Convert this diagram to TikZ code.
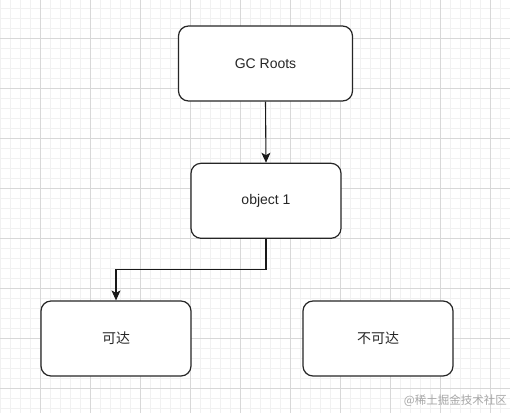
\documentclass[tikz,border=0pt]{standalone}
\usepackage{fontspec}
\setmainfont{Liberation Sans}
\newfontfamily\cjk{Noto Sans CJK SC}
\usetikzlibrary{arrows.meta,positioning}

\definecolor{gridlite}{HTML}{F1F1F1}
\definecolor{griddark}{HTML}{D8D8D8}

\tikzset{
  objbox/.style={draw=black!85, line width=1.2pt, rounded corners=10pt, fill=white,
    minimum width=150pt, minimum height=75pt, text=black!85, font=\fontsize{14}{16}\selectfont},
  link/.style={-{Stealth[length=10pt,width=9pt,inset=2.5pt]}, line width=1.1pt, black!90},
}

\begin{document}
\begin{tikzpicture}[x=1pt, y=-1pt]
  \useasboundingbox (0,0) rectangle (510,413);
  \fill[white] (0,0) rectangle (510,413);

  % background grid
  \foreach \gx in {0,10,...,510}
    \draw[gridlite, line width=0.8pt] (\gx,0) -- (\gx,413);
  \foreach \gy in {8,18,...,408}
    \draw[gridlite, line width=0.8pt] (0,\gy) -- (510,\gy);
  \foreach \gx in {40,90,...,490}
    \draw[griddark, line width=0.8pt] (\gx,0) -- (\gx,413);
  \foreach \gy in {38,88,...,388}
    \draw[griddark, line width=0.8pt] (0,\gy) -- (510,\gy);

  % boxes
  \node[objbox, minimum width=174pt] (roots) at (265.5,63.5) {GC Roots};
  \node[objbox] (obj) at (266,200.8) {object 1};
  \node[objbox] (reach) at (116,338.5) {\cjk 可达};
  \node[objbox] (unreach) at (378,338.5) {\cjk 不可达};

  % references
  \draw[link] (roots.south) -- (obj.north);
  \draw[link] (obj.south) -- ++(0,31) -| (reach.north);

  \node[text=black!35, font=\cjk\fontsize{11.5}{13}\selectfont, anchor=east, inner sep=1pt] (mark) at (508,401) {@稀土掘金技术社区};
\end{tikzpicture}
\end{document}
